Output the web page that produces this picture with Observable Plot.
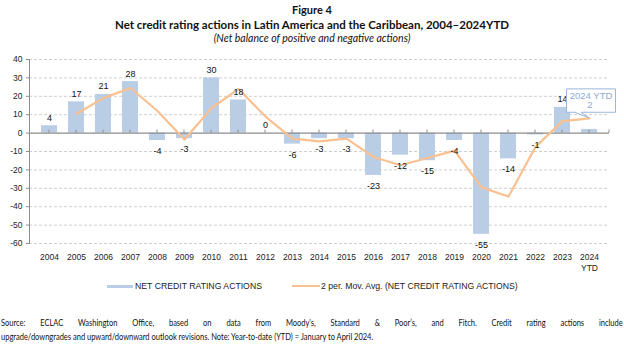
<!DOCTYPE html>
<html>
<head>
<meta charset="utf-8">
<script src="https://cdn.jsdelivr.net/npm/d3@7"></script>
<script src="https://cdn.jsdelivr.net/npm/@observablehq/plot@0.6"></script>
<style>
  html, body { margin: 0; padding: 0; background: #fff; }
  body { width: 624px; height: 349px; position: relative; overflow: hidden; }
  .t { position: absolute; left: 0; width: 624px; text-align: center; font-family: Lato, "Open Sans", sans-serif; color: #111; white-space: nowrap; }
  #fig { top: 3px; font-size: 11px; font-weight: bold; line-height: 14px; }
  #ttl { top: 18px; font-size: 11.5px; font-weight: bold; line-height: 14px; }
  #sub { top: 32px; font-size: 10.5px; font-style: italic; line-height: 12px; }
  #chart { position: absolute; left: 0; top: 48px; }
  .leg { position: absolute; font-family: "Liberation Sans", Arial, sans-serif; font-size: 8.7px; color: #222; line-height: 10px; white-space: nowrap; }
  .sw { position: absolute; }
  .cap { position: absolute; left: 1px; font-family: Lato, "Open Sans", sans-serif; font-size: 9.4px; line-height: 14px; color: #111; white-space: nowrap; transform-origin: 0 0; transform: scaleX(0.8); }
  #cap1 { top: 316px; width: 777px; text-align: justify; text-align-last: justify; white-space: normal; }
  #cap2 { top: 330px; }
</style>
</head>
<body>
<div class="t" id="fig">Figure 4</div>
<div class="t" id="ttl">Net credit rating actions in Latin America and the Caribbean, 2004–2024YTD</div>
<div class="t" id="sub">(Net balance of positive and negative actions)</div>
<div id="chart"></div>
<div class="sw" style="left:107px;top:285px;width:26px;height:3px;background:#B9CDE5"></div>
<div class="leg" style="left:135px;top:281px">NET CREDIT RATING ACTIONS</div>
<div class="sw" style="left:292px;top:285px;width:28px;height:2px;background:#FAC090"></div>
<div class="leg" style="left:321px;top:281px">2 per. Mov. Avg. (NET CREDIT RATING ACTIONS)</div>
<div class="cap" id="cap1">Source: ECLAC Washington Office, based on data from Moody’s, Standard &amp; Poor’s, and Fitch. Credit rating actions include</div>
<div class="cap" id="cap2">upgrade/downgrades and upward/downward outlook revisions. Note: Year-to-date (YTD) = January to April 2024.</div>
<script>
const years = ["2004","2005","2006","2007","2008","2009","2010","2011","2012","2013","2014","2015","2016","2017","2018","2019","2020","2021","2022","2023","2024\nYTD"];
const netActions = [4,17,21,28,-4,-3,30,18,0,-6,-3,-3,-23,-12,-15,-4,-55,-14,-1,14,2];
const movAvg = [null,10.5,19,24.5,12,-3.5,13.5,24,9,-3,-4.5,-3,-13,-17.5,-13.5,-9.5,-29.5,-34.5,-7.5,6.5,8];
const yTicks = [40,30,20,10,0,-10,-20,-30,-40,-50,-60];
const calloutTitle = "2024 YTD";

const data = years.map((y, i) => ({year: y, value: netActions[i], ma: movAvg[i]}));
const labelled = data.slice(0, data.length - 1);
const axisFont = "Liberation Sans, Arial, sans-serif";

const chart = Plot.plot({
  width: 624,
  height: 227,
  marginLeft: 29,
  marginRight: 15,
  marginTop: 11,
  marginBottom: 32,
  style: {fontFamily: axisFont, background: "#fff", overflow: "visible"},
  x: {type: "band", domain: years, paddingInner: 0.42, paddingOuter: 0.21, axis: null, label: null},
  y: {domain: [-60, 40], axis: null, label: null},
  marks: [
    Plot.ruleY(yTicks.filter(d => d !== 0), {stroke: "#cfcfcf", strokeDasharray: "3,2"}),
    Plot.barY(data, {x: "year", y: "value", fill: "#B9CDE5"}),
    Plot.ruleY([0], {stroke: "#8c8c8c", strokeWidth: 1.2}),
    Plot.frame({anchor: "left", stroke: "#8c8c8c"}),
    Plot.axisY({ticks: yTicks, tickSize: 3, tickPadding: 4, tickFormat: d => String(d), fontSize: 8.5, fill: "#222", stroke: "#8c8c8c", label: null}),
    Plot.axisX({tickSize: 0, tickPadding: 9, fontSize: 8.5, fill: "#222", lineHeight: 1.3, label: null}),
    Plot.line(data.filter(d => d.ma !== null), {x: "year", y: "ma", stroke: "#FAC090", strokeWidth: 2.2}),
    Plot.text(labelled.filter(d => d.value >= 0), {x: "year", y: "value", text: d => String(d.value), fontSize: 9, fill: "#111", lineAnchor: "bottom", dy: -5}),
    Plot.text(labelled.filter(d => d.value < 0), {x: "year", y: "value", text: d => String(d.value), fontSize: 9, fill: "#111", lineAnchor: "top", dy: 7})
  ]
});

document.getElementById("chart").appendChild(chart);

const svg = d3.select(chart);
const xs = chart.scale("x");
const ys = chart.scale("y");
const bw = xs.bandwidth;

// small tick marks on the zero line at category centres
const zg = svg.append("g").attr("stroke", "#8c8c8c");
const y0 = ys.apply(0);
years.forEach(y => {
  const c = xs.apply(y) + bw / 2;
  zg.append("line").attr("x1", c).attr("x2", c).attr("y1", y0 - 3).attr("y2", y0);
});
zg.append("line").attr("x1", xs.range[1]).attr("x2", xs.range[1]).attr("y1", y0 - 3).attr("y2", y0);

// callout for the last value
const last = data[data.length - 1];
const cx = xs.apply(last.year) + bw / 2;
const tipY = ys.apply(last.ma);
const bLeft = cx - 22.5, bRight = cx + 26.5, bTop = tipY - 29, bBottom = tipY - 5.6;
svg.append("path")
  .attr("d", `M${bLeft},${bTop}H${bRight}V${bBottom}H${cx - 8}L${cx},${tipY}L${cx - 14},${bBottom}H${bLeft}Z`)
  .attr("fill", "#fff").attr("stroke", "#9DB6DA").attr("stroke-width", 1);
const mid = (bLeft + bRight) / 2;
svg.append("text").attr("x", mid).attr("y", bTop + 10).attr("text-anchor", "middle")
  .attr("font-size", 9.5).attr("fill", "#8EA9D4").attr("font-family", axisFont).text(calloutTitle);
svg.append("text").attr("x", mid - 1).attr("y", bTop + 19.5).attr("text-anchor", "middle")
  .attr("font-size", 9.5).attr("fill", "#8EA9D4").attr("font-family", axisFont).text(String(last.value));
</script>
</body>
</html>
